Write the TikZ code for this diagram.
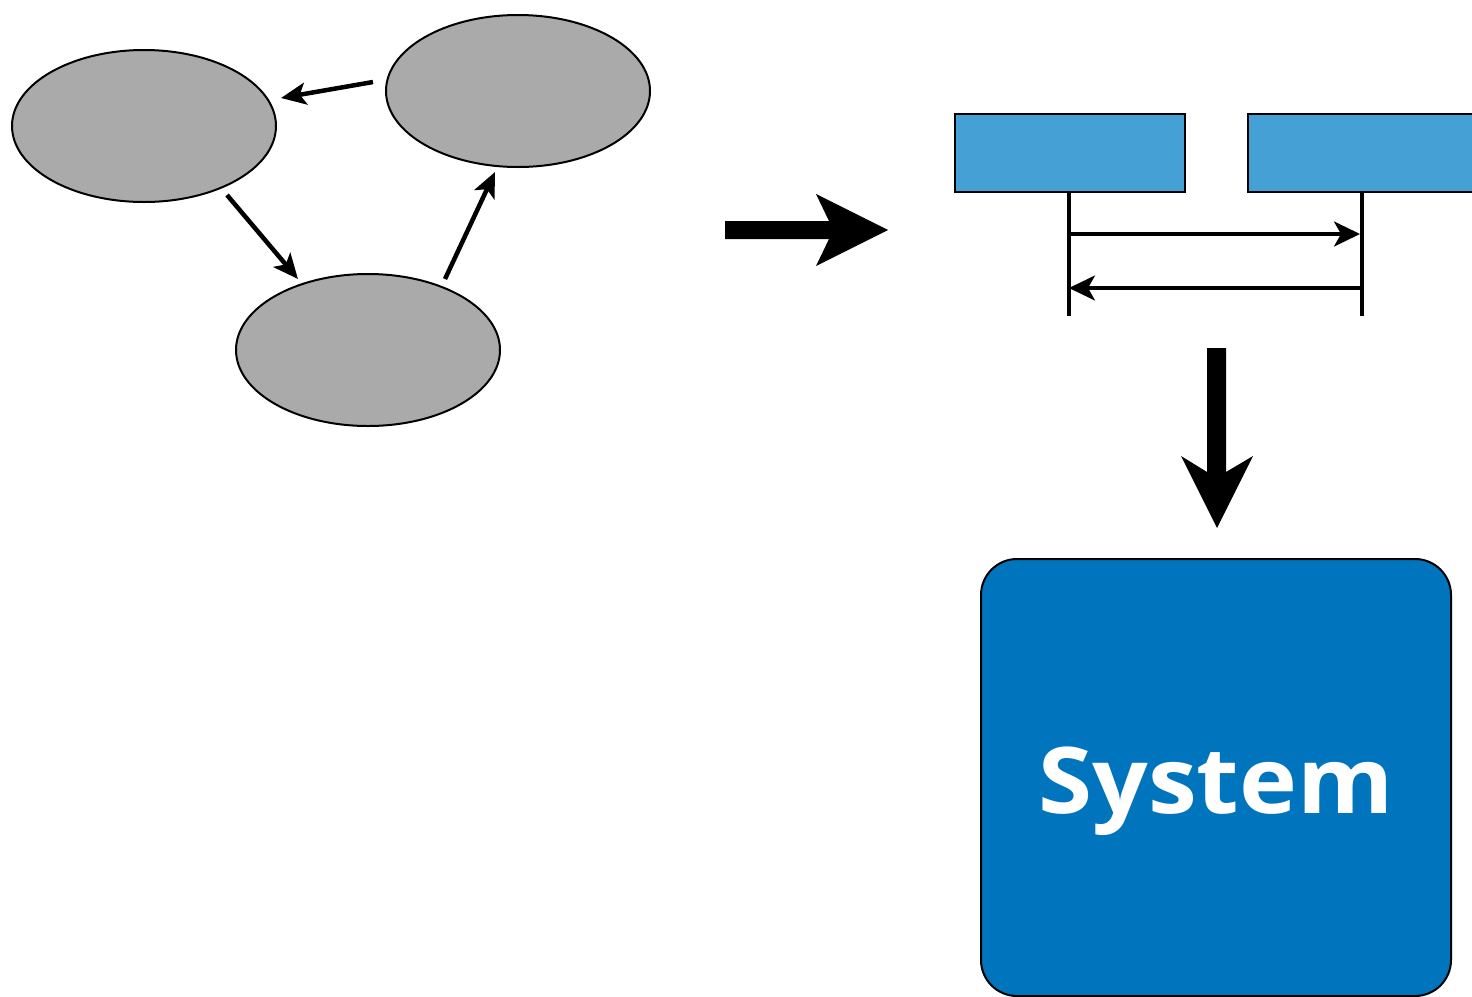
\documentclass[tikz,border=0pt]{standalone}
\usepackage{fontspec}
\setsansfont{Open Sans}
\usetikzlibrary{arrows.meta,shapes.geometric}
\definecolor{stategray}{HTML}{AAAAAA}
\definecolor{lifeblue}{HTML}{45A1D5}
\definecolor{sysblue}{HTML}{0075BE}
\tikzset{
  state/.style={ellipse, draw=black, line width=2pt, fill=stategray,
    minimum width=264pt, minimum height=152pt, inner sep=0pt},
  flow/.style={line width=4.5pt, -{Stealth[length=25pt,width=22pt,inset=6pt]}},
  actor/.style={rectangle, draw=black, line width=2pt, fill=lifeblue,
    minimum width=230pt, minimum height=78pt, inner sep=0pt, anchor=north west},
  lifeline/.style={line width=4pt},
  message/.style={line width=3.4pt, -{Stealth[length=26pt,width=25pt,inset=7pt]}},
  bigarrow/.style={fill=black, draw=none},
  sysbox/.style={rectangle, rounded corners=36pt, draw=black, line width=2pt,
    fill=sysblue, minimum width=470pt, minimum height=437pt, inner sep=0pt,
    anchor=north west}
}
\begin{document}
\begin{tikzpicture}[x=1pt, y=-1pt]
  \useasboundingbox (0,0) rectangle (1472,996);
  \clip (0,0) rectangle (1472,996);

  % state graph
  \node[state] (s1) at (144,126) {};
  \node[state] (s2) at (518,91) {};
  \node[state] (s3) at (368,350) {};
  \coordinate (s2out) at (373,82);
  \coordinate (s1in) at (281,98);
  \coordinate (s1out) at (227,195);
  \coordinate (s3in) at (298,279);
  \coordinate (s3out) at (445,279);
  \coordinate (s2in) at (495,172);
  \draw[flow] (s2out) -- (s1in);
  \draw[flow] (s1out) -- (s3in);
  \draw[flow] (s3out) -- (s2in);

  % transformation arrow to the sequence view
  \coordinate (ra) at (725,230);
  \fill[bigarrow] (ra) ++(0,-9) -- ++(104,0) -- (816,194) -- (888,230)
    -- (816,266) -- (829,239) -- (725,239) -- cycle;

  % sequence view
  \node[actor] (a1) at (954,113) {};
  \node[actor] (a2) at (1247,113) {};
  \coordinate (l1end) at (1069,316);
  \coordinate (l2end) at (1362,316);
  \draw[lifeline] (a1.south -| l1end) -- (l1end);
  \draw[lifeline] (a2.south -| l2end) -- (l2end);
  \coordinate (m1a) at (1069,234);
  \coordinate (m1b) at (1360,234);
  \coordinate (m2a) at (1362,288);
  \coordinate (m2b) at (1069,288);
  \draw[message] (m1a) -- (m1b);
  \draw[message] (m2a) -- (m2b);

  % refinement arrow down to the system
  \fill[bigarrow] (1207,348) -- (1226,348) -- (1226,472) -- (1253,456)
    -- (1217,528) -- (1181,456) -- (1207,472) -- cycle;

  % system block
  \node[sysbox] (sys) at (980,558) {};
  \node[font=\sffamily\bfseries\fontsize{92}{100}\selectfont, text=white,
    anchor=base, inner sep=0pt] (systxt) at (1216,813) {\scalebox{1.065}[1]{System}};
\end{tikzpicture}
\end{document}
